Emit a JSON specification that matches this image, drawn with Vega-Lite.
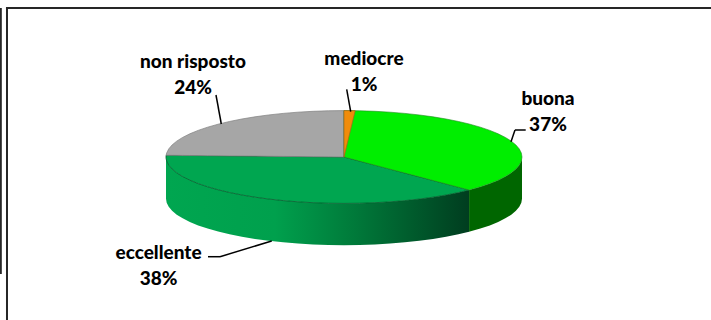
{
  "$schema": "https://vega.github.io/schema/vega-lite/v6.json",
  "width": 711,
  "height": 320,
  "padding": 0,
  "autosize": "none",
  "background": "white",
  "config": {"view": {"stroke": null}},
  "datasets": {
    "lato_eccellente": [
      {"x":-1,"y":0,"y2":-0.9},{"x":-0.9962,"y":-0.0872,"y2":-0.9872},{"x":-0.9848,"y":-0.1736,"y2":-1.0736},{"x":-0.9659,"y":-0.2588,"y2":-1.1588},{"x":-0.9397,"y":-0.342,"y2":-1.242},{"x":-0.9063,"y":-0.4226,"y2":-1.3226},{"x":-0.866,"y":-0.5,"y2":-1.4},{"x":-0.8192,"y":-0.5736,"y2":-1.4736},{"x":-0.766,"y":-0.6428,"y2":-1.5428},{"x":-0.7071,"y":-0.7071,"y2":-1.6071},{"x":-0.6428,"y":-0.766,"y2":-1.666},{"x":-0.5736,"y":-0.8192,"y2":-1.7192},{"x":-0.5,"y":-0.866,"y2":-1.766},{"x":-0.4226,"y":-0.9063,"y2":-1.8063},{"x":-0.342,"y":-0.9397,"y2":-1.8397},{"x":-0.2588,"y":-0.9659,"y2":-1.8659},{"x":-0.1736,"y":-0.9848,"y2":-1.8848},{"x":-0.0872,"y":-0.9962,"y2":-1.8962},{"x":0,"y":-1,"y2":-1.9},{"x":0.0872,"y":-0.9962,"y2":-1.8962},{"x":0.1736,"y":-0.9848,"y2":-1.8848},{"x":0.2588,"y":-0.9659,"y2":-1.8659},{"x":0.342,"y":-0.9397,"y2":-1.8397},{"x":0.4226,"y":-0.9063,"y2":-1.8063},{"x":0.5,"y":-0.866,"y2":-1.766},{"x":0.5736,"y":-0.8192,"y2":-1.7192},{"x":0.6428,"y":-0.766,"y2":-1.666},{"x":0.7027,"y":-0.7115,"y2":-1.6115}
    ],
    "lato_buona": [
      {"x":0.7027,"y":-0.7115,"y2":-1.6115},{"x":0.7071,"y":-0.7071,"y2":-1.6071},{"x":0.766,"y":-0.6428,"y2":-1.5428},{"x":0.8192,"y":-0.5736,"y2":-1.4736},{"x":0.866,"y":-0.5,"y2":-1.4},{"x":0.9063,"y":-0.4226,"y2":-1.3226},{"x":0.9397,"y":-0.342,"y2":-1.242},{"x":0.9659,"y":-0.2588,"y2":-1.1588},{"x":0.9848,"y":-0.1736,"y2":-1.0736},{"x":0.9962,"y":-0.0872,"y2":-0.9872},{"x":1,"y":0,"y2":-0.9}
    ],
    "fetta_eccellente": [
      {"x":-1,"y":0,"y2":0},{"x":-0.9993,"y":0.0377,"y2":-0.0377},{"x":-0.9962,"y":0.0376,"y2":-0.0872},{"x":-0.9848,"y":0.0371,"y2":-0.1736},{"x":-0.9659,"y":0.0364,"y2":-0.2588},{"x":-0.9397,"y":0.0354,"y2":-0.342},{"x":-0.9063,"y":0.0342,"y2":-0.4226},{"x":-0.866,"y":0.0326,"y2":-0.5},{"x":-0.8192,"y":0.0309,"y2":-0.5736},{"x":-0.766,"y":0.0289,"y2":-0.6428},{"x":-0.7071,"y":0.0267,"y2":-0.7071},{"x":-0.6428,"y":0.0242,"y2":-0.766},{"x":-0.5736,"y":0.0216,"y2":-0.8192},{"x":-0.5,"y":0.0189,"y2":-0.866},{"x":-0.4226,"y":0.0159,"y2":-0.9063},{"x":-0.342,"y":0.0129,"y2":-0.9397},{"x":-0.2588,"y":0.0098,"y2":-0.9659},{"x":-0.1736,"y":0.0065,"y2":-0.9848},{"x":-0.0872,"y":0.0033,"y2":-0.9962},{"x":0,"y":0,"y2":-1},{"x":0.0872,"y":-0.0883,"y2":-0.9962},{"x":0.1736,"y":-0.1758,"y2":-0.9848},{"x":0.2588,"y":-0.262,"y2":-0.9659},{"x":0.342,"y":-0.3463,"y2":-0.9397},{"x":0.4226,"y":-0.4279,"y2":-0.9063},{"x":0.5,"y":-0.5063,"y2":-0.866},{"x":0.5736,"y":-0.5808,"y2":-0.8192},{"x":0.6428,"y":-0.6508,"y2":-0.766},{"x":0.7027,"y":-0.7115,"y2":-0.7115}
    ],
    "fetta_non_risposto": [
      {"x":-0.9993,"y":0.0377,"y2":0.0377},{"x":-0.9962,"y":0.0872,"y2":0.0376},{"x":-0.9848,"y":0.1736,"y2":0.0371},{"x":-0.9659,"y":0.2588,"y2":0.0364},{"x":-0.9397,"y":0.342,"y2":0.0354},{"x":-0.9063,"y":0.4226,"y2":0.0342},{"x":-0.866,"y":0.5,"y2":0.0326},{"x":-0.8192,"y":0.5736,"y2":0.0309},{"x":-0.766,"y":0.6428,"y2":0.0289},{"x":-0.7071,"y":0.7071,"y2":0.0267},{"x":-0.6428,"y":0.766,"y2":0.0242},{"x":-0.5736,"y":0.8192,"y2":0.0216},{"x":-0.5,"y":0.866,"y2":0.0189},{"x":-0.4226,"y":0.9063,"y2":0.0159},{"x":-0.342,"y":0.9397,"y2":0.0129},{"x":-0.2588,"y":0.9659,"y2":0.0098},{"x":-0.1736,"y":0.9848,"y2":0.0065},{"x":-0.0872,"y":0.9962,"y2":0.0033},{"x":0,"y":1,"y2":0}
    ],
    "fetta_buona": [
      {"x":0,"y":1,"y2":0},{"x":0.0872,"y":0.9962,"y2":-0.0883},{"x":0.1736,"y":0.9848,"y2":-0.1758},{"x":0.2588,"y":0.9659,"y2":-0.262},{"x":0.342,"y":0.9397,"y2":-0.3463},{"x":0.4226,"y":0.9063,"y2":-0.4279},{"x":0.5,"y":0.866,"y2":-0.5063},{"x":0.5736,"y":0.8192,"y2":-0.5808},{"x":0.6428,"y":0.766,"y2":-0.6508},{"x":0.7027,"y":0.7115,"y2":-0.7115},{"x":0.7071,"y":0.7071,"y2":-0.7071},{"x":0.766,"y":0.6428,"y2":-0.6428},{"x":0.8192,"y":0.5736,"y2":-0.5736},{"x":0.866,"y":0.5,"y2":-0.5},{"x":0.9063,"y":0.4226,"y2":-0.4226},{"x":0.9397,"y":0.342,"y2":-0.342},{"x":0.9659,"y":0.2588,"y2":-0.2588},{"x":0.9848,"y":0.1736,"y2":-0.1736},{"x":0.9962,"y":0.0872,"y2":-0.0872},{"x":1,"y":0,"y2":0}
    ],
    "fetta_mediocre": [
      {"x":0,"y":1,"y2":0},{"x":0.0628,"y":0.998,"y2":0.998}
    ],
    "cornice": [
      {"x":-1.899,"y":3.2112,"x2":2.0618,"y2":3.2112},
      {"x":-1.8933,"y":3.2112,"x2":-1.8933,"y2":-3.5129},
      {"x":-1.928,"y":3.2112,"x2":-1.928,"y2":-2.5216}
    ],
    "richiami": [
      {"x":-0.7191,"y":1.336,"x2":-0.6893,"y2":0.7112},
      {"x":0.0152,"y":1.459,"x2":0.0376,"y2":0.9763},
      {"x":1.0208,"y":0.5819,"x2":0.9607,"y2":0.5819},
      {"x":0.9607,"y":0.5819,"x2":0.9382,"y2":0.3297},
      {"x":-0.764,"y":-2.149,"x2":-0.6966,"y2":-2.149},
      {"x":-0.6966,"y":-2.149,"x2":-0.4062,"y2":-1.81}
    ],
    "etichette": [
      {"categoria":"non risposto","quota":0.24,"x":-0.8483,"y":2.069},
      {"categoria":"mediocre","quota":0.01,"x":0.1124,"y":2.155},
      {"categoria":"buona","quota":0.37,"x":1.146,"y":1.293},
      {"categoria":"eccellente","quota":0.38,"x":-1.042,"y":-2.026}
    ]
  },
  "encoding": {
    "x": {"field": "x", "type": "quantitative", "axis": null, "scale": {"domain": [-1.9326, 2.0618], "nice": false, "zero": false}},
    "y": {"field": "y", "type": "quantitative", "axis": null, "scale": {"domain": [-3.5129, 3.3836], "nice": false, "zero": false}}
  },
  "layer": [
    {
      "data": {"name": "cornice"},
      "mark": {"type": "rule", "color": "#262626", "strokeWidth": 2},
      "encoding": {"x2": {"field": "x2"}, "y2": {"field": "y2"}}
    },
    {
      "data": {"name": "lato_eccellente"},
      "mark": {"type": "area", "color": {"gradient": "linear", "x1": 0, "x2": 1, "y1": 0, "y2": 0, "stops": [
        {"offset": 0, "color": "#00A650"},
        {"offset": 0.36, "color": "#00A04D"},
        {"offset": 0.62, "color": "#007A3A"},
        {"offset": 1, "color": "#003D1F"}
      ]}},
      "encoding": {"y2": {"field": "y2"}}
    },
    {
      "data": {"name": "lato_buona"},
      "mark": {"type": "area", "color": "#006600"},
      "encoding": {"y2": {"field": "y2"}}
    },
    {
      "data": {"name": "fetta_eccellente"},
      "mark": {"type": "area", "color": "#00A650", "stroke": "#005A2A", "strokeWidth": 0.8},
      "encoding": {"y2": {"field": "y2"}}
    },
    {
      "data": {"name": "fetta_non_risposto"},
      "mark": {"type": "area", "color": "#A6A6A6", "stroke": "#7F7F7F", "strokeWidth": 0.7},
      "encoding": {"y2": {"field": "y2"}}
    },
    {
      "data": {"name": "fetta_buona"},
      "mark": {"type": "area", "color": "#00EE00", "stroke": "#1F8A1F", "strokeWidth": 0.6},
      "encoding": {"y2": {"field": "y2"}}
    },
    {
      "data": {"name": "fetta_mediocre"},
      "mark": {"type": "area", "color": "#F08C0A", "stroke": "#A8641E", "strokeWidth": 0.7},
      "encoding": {"y2": {"field": "y2"}}
    },
    {
      "data": {"name": "richiami"},
      "mark": {"type": "rule", "color": "#000000", "strokeWidth": 1.5},
      "encoding": {"x2": {"field": "x2"}, "y2": {"field": "y2"}}
    },
    {
      "data": {"name": "etichette"},
      "mark": {"type": "text", "font": "Lato", "fontWeight": 900, "fontSize": 19, "color": "#000000", "align": "center", "baseline": "middle", "dy": 1.5},
      "encoding": {"text": {"field": "categoria"}}
    },
    {
      "data": {"name": "etichette"},
      "mark": {"type": "text", "font": "Lato", "fontWeight": 900, "fontSize": 19, "color": "#000000", "align": "center", "baseline": "middle", "dy": 27.5},
      "encoding": {"text": {"field": "quota", "format": ".0%"}}
    }
  ]
}
